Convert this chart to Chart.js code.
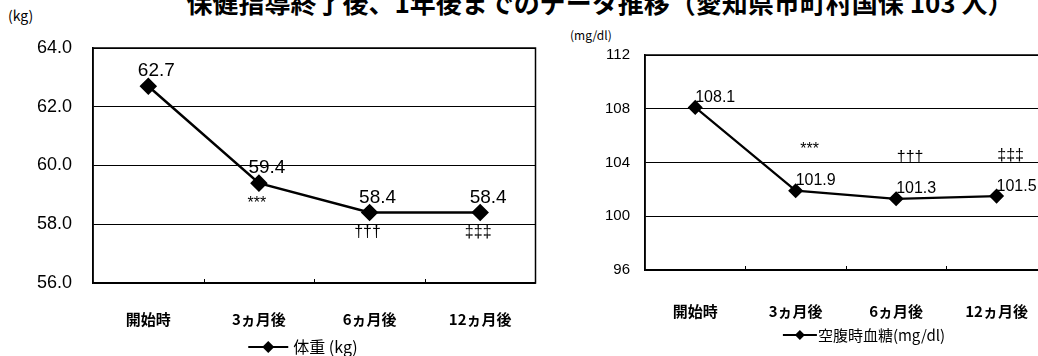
<!DOCTYPE html>
<html>
<head>
<meta charset="utf-8">
<script src="https://cdn.jsdelivr.net/npm/chart.js@4"></script>
<style>
  body { margin: 0; width: 1038px; height: 356px; overflow: hidden; position: relative; background: #fff; }
  #title { position: absolute; left: 0; width: 1200px; top: -11px; text-align: center; white-space: nowrap;
           font: bold 26px "Noto Sans CJK JP"; line-height: 26px; color: #000; }
  .unit { position: absolute; font: 14px "Noto Sans CJK JP"; color: #000; line-height: 14px; }
  canvas { position: absolute; top: 0; }
</style>
</head>
<body>
<div id="title">保健指導終了後、1年後までのデータ推移（愛知県市町村国保 103 人）</div>
<div class="unit" style="left:8px;top:8px">(kg)</div>
<div class="unit" style="left:570px;top:28px;font-size:12px">(mg/dl)</div>
<canvas id="weightChart" width="545" height="356" style="left:0"></canvas>
<canvas id="glucoseChart" width="510" height="356" style="left:545px"></canvas>
<script>
// データ
const categories = ['開始時', '3ヵ月後', '6ヵ月後', '12ヵ月後'];
const weightValues = [62.7, 59.4, 58.4, 58.4];
const glucoseValues = [108.1, 101.9, 101.3, 101.5];
const sigMarks = ['', '***', '†††', '‡‡‡'];
const weightTicks = [56, 58, 60, 62, 64];
const glucoseTicks = [96, 100, 104, 108, 112];

// 枠、目盛り、数値ラベル、凡例
const decorPlugin = {
    id: 'decor',
    afterDatasetsDraw(chart, args, o) {
        const ctx = chart.ctx;
        const a = chart.chartArea;
        const x = chart.scales.x;
        ctx.save();
        ctx.strokeStyle = '#000';
        ctx.lineWidth = 1.5;
        ctx.strokeRect(a.left, a.top, a.right - a.left, a.bottom - a.top);

        ctx.lineWidth = 1;
        for (let i = 0; i < chart.data.labels.length - 1; i++) {
            const px = Math.round((x.getPixelForValue(i) + x.getPixelForValue(i + 1)) / 2) + 0.5;
            ctx.beginPath();
            ctx.moveTo(px, a.bottom);
            ctx.lineTo(px, a.bottom - 4);
            ctx.stroke();
        }

        const meta = chart.getDatasetMeta(0);
        const ds = chart.data.datasets[0];
        ctx.fillStyle = '#000';
        ctx.textBaseline = 'middle';
        ctx.font = o.valueFont;
        ctx.textAlign = o.valueAlign;
        meta.data.forEach((pt, i) => {
            ctx.fillText(ds.data[i].toFixed(1), pt.x + o.valueDx, pt.y + o.valueDy);
        });
        ctx.font = o.markFont;
        ctx.textAlign = 'center';
        meta.data.forEach((pt, i) => {
            if (sigMarks[i]) ctx.fillText(sigMarks[i], pt.x + o.markDx, pt.y + o.markDy);
        });

        // 凡例
        const lx = (a.left + a.right) / 2 + o.legendDx;
        const ly = a.bottom + o.legendDy;
        ctx.lineWidth = 2;
        ctx.beginPath();
        ctx.moveTo(lx, ly);
        ctx.lineTo(lx + o.iconW, ly);
        ctx.stroke();
        const cx = lx + o.iconW / 2, r = o.iconR;
        ctx.beginPath();
        ctx.moveTo(cx, ly - r); ctx.lineTo(cx + r, ly); ctx.lineTo(cx, ly + r); ctx.lineTo(cx - r, ly);
        ctx.closePath();
        ctx.fill();
        ctx.font = o.legendFont;
        ctx.textAlign = 'left';
        ctx.fillText(ds.label, lx + o.iconW + o.legendGap, ly);
        ctx.restore();
    }
};

function buildChart(id, opt) {
    return new Chart(document.getElementById(id), {
        type: 'line',
        data: {
            labels: categories,
            datasets: [{
                label: opt.label,
                data: opt.values,
                borderColor: '#000',
                backgroundColor: '#000',
                borderWidth: opt.lineWidth,
                pointStyle: 'rectRot',
                pointRadius: opt.pointRadius,
                pointBackgroundColor: '#000',
                pointBorderColor: '#000',
                tension: 0
            }]
        },
        options: {
            responsive: false,
            animation: false,
            devicePixelRatio: 1,
            layout: { padding: opt.padding },
            plugins: {
                legend: { display: false },
                tooltip: { enabled: false },
                decor: opt.decor
            },
            scales: {
                x: {
                    offset: true,
                    grid: { display: false },
                    border: { color: '#000', width: 1.5 },
                    ticks: { color: '#000', font: { family: '"Noto Sans CJK JP"', size: 15, weight: 'bold' }, padding: opt.xPad, maxRotation: 0 },
                    afterFit(s) { s.height = opt.xHeight; }
                },
                y: {
                    min: opt.ticks[0],
                    max: opt.ticks[opt.ticks.length - 1],
                    afterBuildTicks(s) { s.ticks = opt.ticks.map(v => ({ value: v })); },
                    ticks: { color: '#000', font: { family: '"Liberation Sans"', size: opt.yFontSize }, padding: opt.yPad, callback: opt.fmt },
                    grid: { color: '#000', lineWidth: 1, drawTicks: false },
                    border: { color: '#000', width: 1.5 },
                    afterFit(s) { s.width = opt.yWidth; }
                }
            }
        },
        plugins: [decorPlugin]
    });
}

buildChart('weightChart', {
    label: '体重 (kg)',
    values: weightValues,
    ticks: weightTicks,
    fmt: v => v.toFixed(1),
    lineWidth: 2.5,
    pointRadius: 7,
    padding: { top: 48, right: 9, bottom: 0, left: 0 },
    yWidth: 93,
    yPad: 21,
    yFontSize: 18,
    xHeight: 73,
    xPad: 19,
    decor: {
        valueFont: '19px "Liberation Sans Narrow", "Liberation Sans"',
        valueAlign: 'center', valueDx: 8, valueDy: -15,
        markFont: '16px "Liberation Sans"', markDx: -2, markDy: 20,
        legendDx: -66, legendDy: 64, iconW: 40, iconR: 6, legendGap: 5,
        legendFont: '16px "Noto Sans CJK JP"'
    }
});

buildChart('glucoseChart', {
    label: '空腹時血糖(mg/dl)',
    values: glucoseValues,
    ticks: glucoseTicks,
    fmt: v => String(v),
    lineWidth: 2.2,
    pointRadius: 6,
    padding: { top: 55, right: 8, bottom: 0, left: 0 },
    yWidth: 100,
    yPad: 15,
    yFontSize: 15,
    xHeight: 86,
    xPad: 24,
    decor: {
        valueFont: '16px "Liberation Sans Narrow", "Liberation Sans"',
        valueAlign: 'left', valueDx: 0, valueDy: -10,
        markFont: '16px "Liberation Sans"', markDx: 14, markDy: -41,
        legendDx: -63, legendDy: 65, iconW: 34, iconR: 5, legendGap: 1,
        legendFont: '15px "Noto Sans CJK JP"'
    }
});
</script>
</body>
</html>
